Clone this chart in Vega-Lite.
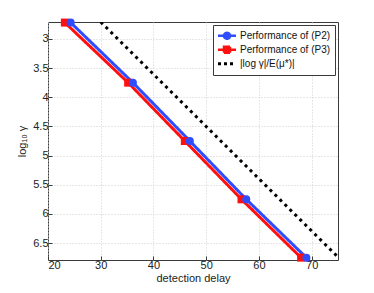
{
  "$schema": "https://vega.github.io/schema/vega-lite/v6.json",
  "width": 290,
  "height": 238,
  "autosize": {"type": "none"},
  "padding": {"left": 48, "top": 22, "right": 36, "bottom": 33},
  "background": "white",
  "config": {
    "font": "Liberation Sans",
    "view": {"stroke": "#3a3a3a", "strokeWidth": 1},
    "axis": {
      "domain": false,
      "grid": true,
      "gridColor": "#cfcfcf",
      "gridDash": [1, 2],
      "gridWidth": 1,
      "tickColor": "#3a3a3a",
      "tickSize": -4,
      "labelFont": "Liberation Sans",
      "labelFontSize": 11,
      "labelColor": "#222",
      "titleFont": "Liberation Sans",
      "titleFontSize": 11,
      "titleFontWeight": "normal",
      "titleColor": "#222"
    }
  },
  "data": {
    "values": [
      {"series": "Performance of (P3)", "delay": 23.2, "loggamma": 2.72},
      {"series": "Performance of (P3)", "delay": 35.2, "loggamma": 3.75},
      {"series": "Performance of (P3)", "delay": 45.95, "loggamma": 4.75},
      {"series": "Performance of (P3)", "delay": 56.7, "loggamma": 5.75},
      {"series": "Performance of (P3)", "delay": 68.0, "loggamma": 6.75},
      {"series": "Performance of (P2)", "delay": 24.3, "loggamma": 2.72},
      {"series": "Performance of (P2)", "delay": 36.1, "loggamma": 3.75},
      {"series": "Performance of (P2)", "delay": 46.9, "loggamma": 4.75},
      {"series": "Performance of (P2)", "delay": 57.6, "loggamma": 5.75},
      {"series": "Performance of (P2)", "delay": 69.0, "loggamma": 6.75},
      {"series": "|log γ|/E(μ*)|", "delay": 30.0, "loggamma": 2.71},
      {"series": "|log γ|/E(μ*)|", "delay": 75.0, "loggamma": 6.74}
    ]
  },
  "encoding": {
    "x": {
      "field": "delay",
      "type": "quantitative",
      "scale": {"domain": [20, 75], "nice": false, "zero": false},
      "axis": {"values": [20, 30, 40, 50, 60, 70], "title": "detection delay", "labelPadding": 3, "titlePadding": 2, "format": "d"}
    },
    "y": {
      "field": "loggamma",
      "type": "quantitative",
      "scale": {"domain": [2.71, 6.79], "nice": false, "zero": false, "reverse": true},
      "axis": {"values": [3, 3.5, 4, 4.5, 5, 5.5, 6, 6.5], "title": "log₁₀ γ", "labelPadding": 4, "titlePadding": 5, "labelExpr": "datum.value % 1 === 0 ? format(datum.value, 'd') : format(datum.value, '.1f')"}
    },
    "color": {
      "field": "series",
      "type": "nominal",
      "scale": {
        "domain": ["Performance of (P2)", "Performance of (P3)", "|log γ|/E(μ*)|"],
        "range": ["#2f4dff", "#ff1010", "#000000"]
      },
      "legend": {
        "title": null,
        "orient": "top-right",
        "offset": 3,
        "fillColor": "white",
        "strokeColor": "#3a3a3a",
        "padding": 4,
        "rowPadding": 0,
        "clipHeight": 13.5,
        "labelFont": "Liberation Sans",
        "labelFontSize": 10,
        "labelColor": "#111",
        "labelOffset": 13,
        "symbolSize": 64,
        "symbolStrokeWidth": 2.5,
        "encode": {
          "symbols": {
            "update": {
              "shape": {"signal": "datum.value === 'Performance of (P2)' ? 'M-1,0H3.5M0.5,0A0.75,0.75,0,1,0,2,0A0.75,0.75,0,1,0,0.5,0Z' : datum.value === 'Performance of (P3)' ? 'M-1,0H3.5M0.5,-0.75H2V0.75H0.5Z' : 'M-1,-0.37H-0.25V0.37H-1ZM0.5,-0.37H1.25V0.37H0.5ZM2,-0.37H2.75V0.37H2Z'"},
              "fill": {"scale": "color", "field": "value"},
              "stroke": {"scale": "color", "field": "value"},
              "strokeWidth": {"signal": "datum.value === '|log γ|/E(μ*)|' ? 0 : 2.5"},
              "strokeDash": {"value": []},
              "opacity": {"value": 1}
            }
          }
        }
      }
    }
  },
  "layer": [
    {
      "mark": {"type": "line", "strokeWidth": 3, "clip": true},
      "encoding": {
        "strokeDash": {
          "field": "series",
          "type": "nominal",
          "scale": {
            "domain": ["Performance of (P2)", "Performance of (P3)", "|log γ|/E(μ*)|"],
            "range": [[1, 0], [1, 0], [3, 4]]
          },
          "legend": null
        }
      }
    },
    {
      "transform": [{"filter": "datum.series !== '|log γ|/E(μ*)|'"}],
      "mark": {"type": "point", "filled": true, "opacity": 1, "size": 64, "strokeWidth": 0},
      "encoding": {
        "shape": {
          "field": "series",
          "type": "nominal",
          "scale": {
            "domain": ["Performance of (P2)", "Performance of (P3)"],
            "range": ["circle", "square"]
          },
          "legend": null
        }
      }
    }
  ]
}
